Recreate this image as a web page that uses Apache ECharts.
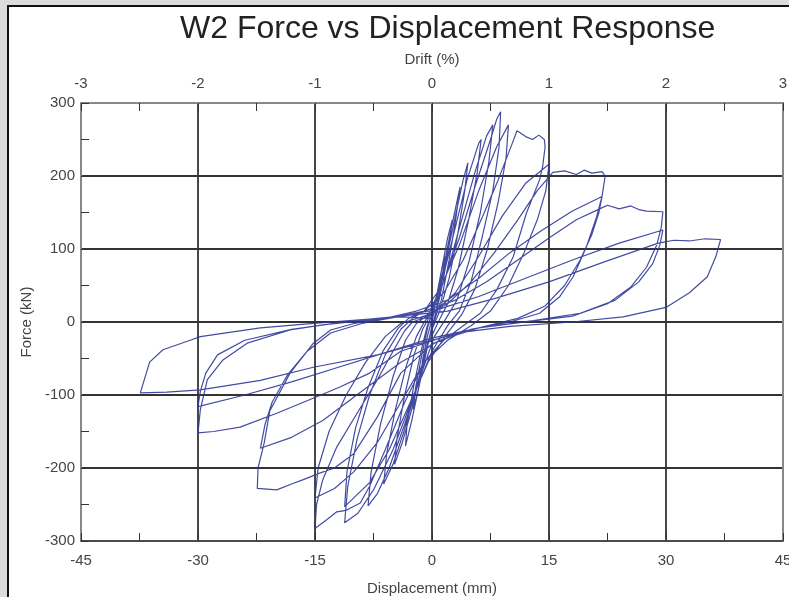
<!DOCTYPE html>
<html>
<head>
<meta charset="utf-8">
<script src="https://cdn.jsdelivr.net/npm/echarts@6/dist/echarts.min.js"></script>
<style>
  html, body { margin: 0; padding: 0; background: #dcdcdc; }
  #panel { position: absolute; left: 7px; top: 5px; width: 800px; height: 600px;
           background: #fff; border-left: 2px solid #111; border-top: 2px solid #111; }
  #w2-chart { position: absolute; left: 0; top: 0; width: 789px; height: 597px; }
</style>
</head>
<body>
<div id="panel"></div>
<div id="w2-chart"></div>
<script>
// axis ticks
const dispTicks = [-45, -30, -15, 0, 15, 30, 45];
const driftTicks = [-3, -2, -1, 0, 1, 2, 3];
const forceTicks = [-300, -200, -100, 0, 100, 200, 300];

const cycle1 = [[0, 0], [0.6, 35], [1.2, 70], [1.6, 90], [1.3, 60], [0.7, 25], [0.2, 0], [-0.5, -30], [-1.1, -60], [-1.5, -80], [-1.2, -52], [-0.6, -20], [-0.1, 0]];
const cycle2 = [[0.4, 25], [1.2, 70], [2, 115], [2.6, 140], [2.2, 105], [1.4, 55], [0.6, 15], [0, -5], [-0.8, -45], [-1.6, -85], [-2.4, -120], [-2.1, -90], [-1.3, -45], [-0.5, -5]];
const cycle3 = [[0.3, 20], [1.4, 70], [2.4, 125], [3.4, 175], [3.6, 185], [3.1, 145], [2.2, 85], [1.2, 30], [0.4, 5], [-0.6, -30], [-1.6, -85], [-2.6, -135], [-3.4, -170], [-3.2, -140], [-2.3, -85], [-1.3, -35], [-0.6, -5]];
const cycle4 = [[0.2, 15], [1.5, 70], [2.8, 135], [4, 195], [4.6, 218], [4.2, 180], [3.3, 120], [2.2, 60], [1, 15], [0, -10], [-1.2, -55], [-2.6, -120], [-3.8, -165], [-4.8, -195], [-4.5, -160], [-3.5, -100], [-2.3, -45], [-1.2, -10]];
const cycle5 = [[-0.2, 10], [1.5, 65], [3, 130], [4.5, 195], [6, 245], [6.3, 250], [5.8, 205], [4.7, 140], [3.4, 75], [2, 25], [0.8, 0], [-0.5, -30], [-2, -90], [-3.6, -150], [-5, -195], [-6.2, -222], [-5.8, -180], [-4.7, -120], [-3.3, -60], [-2, -20], [-1, 0]];
const cycle6 = [[0.3, 20], [2, 70], [3.8, 140], [5.5, 205], [7, 255], [7.8, 270], [7.3, 220], [6.2, 150], [4.8, 85], [3.2, 30], [1.8, 5], [0.3, -20], [-1.5, -75], [-3.5, -140], [-5.5, -200], [-7, -235], [-8.2, -252], [-7.8, -205], [-6.6, -140], [-5, -75], [-3.4, -25], [-2, -2]];
const cycle7 = [[-0.5, 10], [1.5, 55], [3.5, 115], [5.5, 185], [7.5, 250], [8.3, 278], [8.8, 288], [8.6, 240], [7.8, 180], [6.4, 115], [5, 55], [3.5, 15], [2, -5], [0, -40], [-2.5, -105], [-5, -175], [-7.5, -230], [-9.5, -262], [-11.2, -275], [-10.8, -225], [-9.6, -160], [-8, -100], [-6, -45], [-4, -10], [-2.5, 5]];
const cycle8 = [[-1, 15], [1, 45], [3.5, 105], [6, 180], [8.3, 240], [9.8, 270], [9.5, 225], [8.5, 165], [7.1, 100], [5.5, 45], [3.8, 10], [2, -15], [-0.5, -55], [-3, -115], [-5.5, -175], [-8, -220], [-11.2, -253], [-10.9, -205], [-9.8, -145], [-8.2, -90], [-6.3, -40], [-4.3, -8], [-3, 5]];
const cycle9 = [[-1, 15], [1.5, 40], [4, 85], [6.5, 145], [8.5, 195], [10.3, 245], [10.9, 262], [12, 254], [12.9, 250], [13.7, 256], [14.4, 250], [14.5, 240], [14.2, 214], [13.8, 195], [12.1, 149], [10.4, 89], [8.3, 44], [6.2, 12], [4, -5], [1.5, -25], [-1, -55], [-3.5, -110], [-6, -175], [-8, -225], [-9.2, -248], [-11, -258], [-12.2, -260], [-13.5, -271], [-15, -283], [-14.8, -250], [-14, -216], [-12.2, -171], [-9.6, -125], [-7, -79], [-5, -40], [-3.5, -12], [-2.5, 0]];
const cycle10 = [[0, 10], [3, 40], [6, 90], [9, 145], [12, 190], [15, 216], [14.6, 180], [13.5, 140], [11.8, 95], [9.8, 50], [7.5, 15], [5, -5], [2, -25], [-1, -55], [-4, -110], [-7, -165], [-10, -205], [-12.5, -228], [-15, -241], [-14.6, -200], [-13.2, -150], [-11, -100], [-8.5, -55], [-6, -20], [-4, -2]];
const cycle11 = [[-1, 8], [2, 25], [5, 55], [8, 95], [11, 140], [13.5, 180], [15.5, 205], [17, 207], [18.5, 202], [19.5, 208], [20.5, 204], [21.8, 206], [22.2, 200], [21.8, 172], [21.1, 144], [19.8, 103], [18.1, 62], [16.4, 35], [13.8, 12], [10, 0], [5, -10], [0, -30], [-4, -70], [-7, -130], [-10, -180], [-12.5, -200], [-14.4, -207], [-16.5, -216], [-18, -222], [-19.9, -230], [-22.4, -228], [-22.3, -200], [-21.5, -165], [-20.8, -122], [-18.2, -70], [-15.2, -29], [-13, -11], [-10, -2]];
const cycle12 = [[-6, 5], [-2, 15], [2, 30], [6, 60], [10, 95], [14, 125], [18, 152], [21.8, 172], [21.4, 150], [20.5, 120], [19, 85], [17, 50], [14.5, 22], [11, 5], [6, -8], [1, -25], [-4, -55], [-9, -95], [-14, -135], [-18, -158], [-22, -173], [-21.4, -140], [-20.5, -110], [-18.5, -72], [-16, -40], [-13, -15], [-9, -2]];
const cycle13 = [[-5, 6], [-1, 15], [3, 30], [7, 55], [11, 85], [15, 115], [18.5, 140], [21.5, 155], [22.5, 160], [24, 155], [25.5, 159], [26.5, 154], [27.5, 152], [29.6, 151], [29.4, 130], [28.8, 105], [27.5, 75], [25.5, 48], [22.5, 25], [18, 8], [12, 0], [6, -8], [1, -22], [-4, -40], [-8, -70], [-11.8, -89], [-14.7, -102], [-19.9, -125], [-24.6, -144], [-28, -150], [-30, -152], [-29.7, -120], [-28.8, -79], [-26.8, -52], [-23.7, -29], [-18.2, -11], [-14, -4], [-9, 2]];
const cycle14 = [[-4, 8], [1, 18], [6, 35], [12, 60], [18, 85], [24, 108], [29.6, 126], [29.2, 105], [28.3, 80], [26.5, 55], [23.5, 30], [19, 12], [13, 2], [6, -8], [0, -22], [-6, -42], [-12, -62], [-18, -82], [-24, -100], [-30, -116], [-29.7, -95], [-29, -70], [-27.5, -45], [-24, -25], [-18, -10], [-10, 2]];
const cycle15 = [[-4, 8], [2, 15], [8, 32], [15, 55], [22, 82], [29, 108], [31, 112], [33, 111], [35, 114], [37, 113], [36.4, 90], [35.3, 62], [33, 40], [30, 20], [24.5, 7], [18, 0], [10, -6], [4, -14], [0, -25], [-7, -45], [-15.2, -62], [-22, -80], [-29.7, -93], [-34, -96], [-37.4, -97], [-36.2, -55], [-34.5, -38], [-31, -25], [-29.7, -20], [-22, -8], [-15.2, -2], [-8, 4], [-4, 7], [0, 5]];

const cycles = [cycle1, cycle2, cycle3, cycle4, cycle5, cycle6, cycle7, cycle8,
  cycle9, cycle10, cycle11, cycle12, cycle13, cycle14, cycle15];

const FONT = 'Liberation Sans';
const labelStyle = { color: '#444', fontSize: 15, fontFamily: FONT };

const chart = echarts.init(document.getElementById('w2-chart'));

const option = {
  animation: false,
  backgroundColor: 'transparent',
  title: {
    text: 'W2 Force vs Displacement Response',
    left: 175,
    top: 8,
    textStyle: { fontFamily: FONT, fontSize: 32, fontWeight: 'normal', color: '#222' }
  },
  grid: { left: 81, right: 6, top: 103, bottom: 56, outerBoundsMode: 'none', containLabel: false },
  xAxis: [
    {
      type: 'value',
      position: 'bottom',
      min: dispTicks[0],
      max: dispTicks[dispTicks.length - 1],
      interval: 15,
      name: 'Displacement (mm)',
      nameLocation: 'middle',
      nameGap: 40,
      nameTextStyle: labelStyle,
      axisLine: { onZero: false, lineStyle: { color: '#555', width: 1.5 } },
      axisTick: { inside: true, length: 8, lineStyle: { color: '#333' } },
      minorTick: { show: true, splitNumber: 2, length: 8, lineStyle: { color: '#333' } },
      splitLine: { show: true, lineStyle: { color: '#333', width: 1.8 } },
      axisLabel: Object.assign({ margin: 12, showMinLabel: true, showMaxLabel: true }, labelStyle)
    },
    {
      type: 'value',
      position: 'top',
      min: driftTicks[0],
      max: driftTicks[driftTicks.length - 1],
      interval: 1,
      name: 'Drift (%)',
      nameLocation: 'middle',
      nameGap: 36,
      nameTextStyle: labelStyle,
      axisLine: { onZero: false, lineStyle: { color: '#888', width: 2 } },
      axisTick: { inside: true, length: 8, lineStyle: { color: '#333' } },
      minorTick: { show: true, splitNumber: 2, length: 8, lineStyle: { color: '#333' } },
      splitLine: { show: false },
      axisLabel: Object.assign({ margin: 12 }, labelStyle)
    }
  ],
  yAxis: [
    {
      type: 'value',
      position: 'left',
      min: forceTicks[0],
      max: forceTicks[forceTicks.length - 1],
      interval: 100,
      name: 'Force (kN)',
      nameLocation: 'middle',
      nameGap: 33,
      nameTextStyle: labelStyle,
      axisLine: { show: true, onZero: false, lineStyle: { color: '#888', width: 2 } },
      axisTick: { show: true, inside: true, length: 8, lineStyle: { color: '#333' } },
      minorTick: { show: true, splitNumber: 2, length: 8, lineStyle: { color: '#333' } },
      splitLine: { show: true, lineStyle: { color: '#333', width: 1.8 } },
      axisLabel: Object.assign({ margin: 6 }, labelStyle)
    },
    {
      type: 'value',
      position: 'right',
      min: forceTicks[0],
      max: forceTicks[forceTicks.length - 1],
      interval: 100,
      axisLine: { show: true, onZero: false, lineStyle: { color: '#888', width: 2 } },
      axisTick: { show: false },
      axisLabel: { show: false },
      splitLine: { show: false }
    }
  ],
  series: [
    {
      type: 'line',
      xAxisIndex: 0,
      yAxisIndex: 0,
      data: cycles.flat(),
      showSymbol: false,
      lineStyle: { color: '#2f3797', width: 1.2, opacity: 0.9 }
    }
  ]
};

chart.setOption(option);
</script>
</body>
</html>
